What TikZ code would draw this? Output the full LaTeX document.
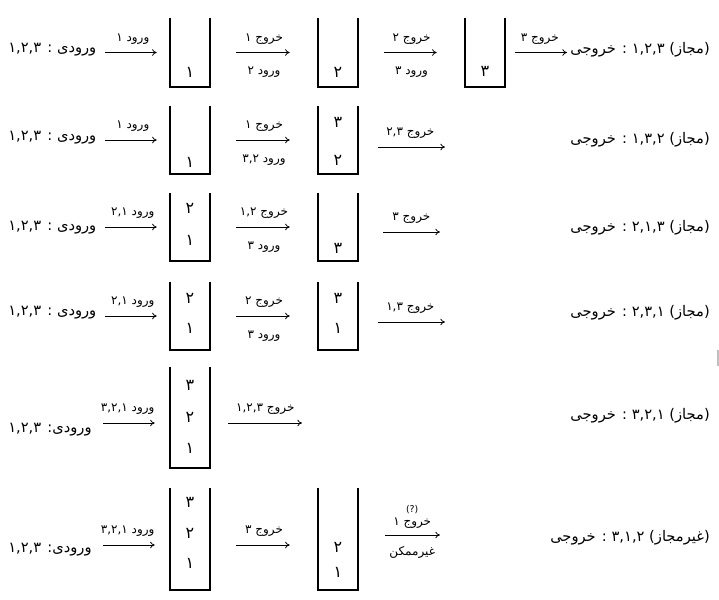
\documentclass[tikz,border=0pt]{standalone}
\usepackage{fontspec}
\newfontfamily\persian[Script=Arabic]{DejaVu Sans}
\TeXXeTstate=1
\usetikzlibrary{arrows.meta,positioning}

\newcommand{\rl}[1]{\beginR #1\endR}
\newcommand{\openstack}[1]{%
    \draw[stackwall] (#1.north west) -- (#1.south west) -- (#1.south east) -- (#1.north east);}

\tikzset{
    stackbox/.style={
        rectangle,
        inner sep=0pt,
        minimum width=30pt,
        minimum height=#1
    },
    stackwall/.style={
        line width=1.5pt,
        line join=miter
    },
    stacknum/.style={
        font=\persian\large,
        inner sep=0pt
    },
    seqtext/.style={
        font=\persian\fontsize{11}{13}\selectfont,
        inner sep=0pt
    },
    oplabel/.style={
        font=\persian\fontsize{9}{11}\selectfont,
        inner sep=1pt
    },
    toplabel/.style={
        oplabel,
        above=5pt
    },
    botlabel/.style={
        oplabel,
        below=9.5pt
    },
    arrow/.style={
        -{To[length=3.5pt,width=5pt]},
        line width=0.6pt
    },
    midarrow/.style={
        arrow,
        shorten <=19.5pt,
        shorten >=21pt
    }
}

\begin{document}
\begin{tikzpicture}[x=0.75pt, y=-0.75pt]
    \useasboundingbox (0,0) rectangle (719,600);

    % row 1: 1,2,3 -> 1,2,3
    \node[seqtext, anchor=west] (in1) at (8,50) {\rl{ورودی : ۱,۲,۳}};
    \node[stackbox=51pt] (b11) at (190,52.5) {};
    \node[stackbox=51pt] (b12) at (338,52.5) {};
    \node[stackbox=51pt] (b13) at (485,52.5) {};
    \openstack{b11} \openstack{b12} \openstack{b13}
    \node[stacknum] (n11) at (190,72) {۱};
    \node[stacknum] (n12) at (338,72) {۲};
    \node[stacknum] (n13) at (485,71) {۳};
    \coordinate (in1a) at (105,52.5);
    \coordinate (r1e) at (567,52.5);
    \draw[arrow, shorten >=9.75pt] (in1a) -- node[toplabel, pos=0.43] (l11) {\rl{ورود ۱}} (b11.west);
    \draw[midarrow] (b11.east) -- node[toplabel] (l12) {\rl{خروج ۱}} node[botlabel] (l12b) {\rl{ورود ۲}} (b12.west);
    \draw[midarrow] (b12.east) -- node[toplabel] (l13) {\rl{خروج ۲}} node[botlabel] (l13b) {\rl{ورود ۳}} (b13.west);
    \draw[arrow, shorten <=7.5pt] (b13.east) -- node[toplabel, pos=0.56] (l14) {\rl{خروج ۳}} (r1e);
    \node[seqtext, anchor=east] (out1) at (710,50) {\rl{(مجاز) ۱,۲,۳ : خروجی}};

    % row 2: 1,2,3 -> 1,3,2
    \node[seqtext, anchor=west] (in2) at (8,138) {\rl{ورودی : ۱,۲,۳}};
    \node[stackbox=51pt] (b21) at (190,140) {};
    \node[stackbox=51pt] (b22) at (338,140) {};
    \openstack{b21} \openstack{b22}
    \node[stacknum] (n21) at (190,162) {۱};
    \node[stacknum] (n22a) at (338,122) {۳};
    \node[stacknum] (n22b) at (338,160) {۲};
    \coordinate (in2a) at (105,140);
    \coordinate (r2e) at (445,147);
    \draw[arrow, shorten >=9.75pt] (in2a) -- node[toplabel, pos=0.43] (l21) {\rl{ورود ۱}} (b21.west);
    \draw[midarrow] (b21.east) -- node[toplabel] (l22) {\rl{خروج ۱}} node[botlabel] (l22b) {\rl{ورود ۳,۲}} (b22.west);
    \draw[arrow, shorten <=15pt] (b22.east |- r2e) -- node[toplabel, pos=0.6] (l23) {\rl{خروج ۲,۳}} (r2e);
    \node[seqtext, anchor=east] (out2) at (710,140) {\rl{(مجاز) ۱,۳,۲ : خروجی}};

    % row 3: 1,2,3 -> 2,1,3
    \node[seqtext, anchor=west] (in3) at (8,228) {\rl{ورودی : ۱,۲,۳}};
    \node[stackbox=51pt] (b31) at (190,227) {};
    \node[stackbox=51pt] (b32) at (338,227) {};
    \openstack{b31} \openstack{b32}
    \node[stacknum] (n31a) at (190,208) {۲};
    \node[stacknum] (n31b) at (190,240) {۱};
    \node[stacknum] (n32) at (338,248) {۳};
    \coordinate (in3a) at (105,227);
    \coordinate (r3e) at (440,232);
    \draw[arrow, shorten >=9.75pt] (in3a) -- node[toplabel, pos=0.43] (l31) {\rl{ورود ۲,۱}} (b31.west);
    \draw[midarrow] (b31.east) -- node[toplabel] (l32) {\rl{خروج ۱,۲}} node[botlabel] (l32b) {\rl{ورود ۳}} (b32.west);
    \draw[arrow, shorten <=18.75pt] (b32.east |- r3e) -- node[toplabel, pos=0.65] (l33) {\rl{خروج ۳}} (r3e);
    \node[seqtext, anchor=east] (out3) at (710,228) {\rl{(مجاز) ۲,۱,۳ : خروجی}};

    % row 4: 1,2,3 -> 2,3,1
    \node[seqtext, anchor=west] (in4) at (8,313) {\rl{ورودی : ۱,۲,۳}};
    \node[stackbox=51pt] (b41) at (190,316) {};
    \node[stackbox=51pt] (b42) at (338,316) {};
    \openstack{b41} \openstack{b42}
    \node[stacknum] (n41a) at (190,298) {۲};
    \node[stacknum] (n41b) at (190,328) {۱};
    \node[stacknum] (n42a) at (338,298) {۳};
    \node[stacknum] (n42b) at (338,328) {۱};
    \coordinate (in4a) at (105,316);
    \coordinate (r4e) at (445,322);
    \draw[arrow, shorten >=9.75pt] (in4a) -- node[toplabel, pos=0.43] (l41) {\rl{ورود ۲,۱}} (b41.west);
    \draw[midarrow] (b41.east) -- node[toplabel] (l42) {\rl{خروج ۲}} node[botlabel] (l42b) {\rl{ورود ۳}} (b42.west);
    \draw[arrow, shorten <=15pt] (b42.east |- r4e) -- node[toplabel, pos=0.6] (l43) {\rl{خروج ۱,۳}} (r4e);
    \node[seqtext, anchor=east] (out4) at (710,313) {\rl{(مجاز) ۲,۳,۱ : خروجی}};

    % row 5: 1,2,3 -> 3,2,1
    \node[seqtext, anchor=west] (in5) at (8,430) {\rl{ورودی: ۱,۲,۳}};
    \node[stackbox=75.75pt] (b51) at (190,417.5) {};
    \openstack{b51}
    \node[stacknum] (n51a) at (190,385) {۳};
    \node[stacknum] (n51b) at (190,417) {۲};
    \node[stacknum] (n51c) at (190,448) {۱};
    \coordinate (in5a) at (103,423);
    \coordinate (r5e) at (302,423);
    \draw[arrow, shorten >=11.25pt] (in5a) -- node[toplabel, pos=0.37] (l51) {\rl{ورود ۳,۲,۱}} (b51.west |- in5a);
    \draw[arrow, shorten <=13.5pt] (b51.east |- r5e) -- node[toplabel, pos=0.6] (l52) {\rl{خروج ۱,۲,۳}} (r5e);
    \node[seqtext, anchor=east] (out5) at (710,416) {\rl{(مجاز) ۳,۲,۱ : خروجی}};

    % row 6: 1,2,3 -> 3,1,2 (not possible)
    \node[seqtext, anchor=west] (in6) at (8,550) {\rl{ورودی: ۱,۲,۳}};
    \node[stackbox=76.5pt] (b61) at (190,539) {};
    \node[stackbox=76.5pt] (b62) at (338,539) {};
    \openstack{b61} \openstack{b62}
    \node[stacknum] (n61a) at (190,502) {۳};
    \node[stacknum] (n61b) at (190,533) {۲};
    \node[stacknum] (n61c) at (190,563) {۱};
    \node[stacknum] (n62a) at (338,547) {۲};
    \node[stacknum] (n62b) at (338,572) {۱};
    \coordinate (in6a) at (103,545);
    \coordinate (r6e) at (440,535);
    \draw[arrow, shorten >=11.25pt] (in6a) -- node[toplabel, pos=0.37] (l61) {\rl{ورود ۳,۲,۱}} (b61.west |- in6a);
    \draw[midarrow] (b61.east |- in6a) -- node[toplabel] (l62) {\rl{خروج ۳}} (b62.west |- in6a);
    \draw[arrow, shorten <=20.25pt] (b62.east |- r6e) -- node[toplabel, pos=0.66, above=4pt] (l63) {\rl{خروج ۱}} node[botlabel, pos=0.66, below=7.5pt] (l63b) {غیرممکن} (r6e);
    \node[oplabel, font=\persian\scriptsize, above=0.5pt of l63] (q63) {(?)};
    \node[seqtext, anchor=east] (out6) at (710,538) {\rl{(غیرمجاز) ۳,۱,۲ : خروجی}};

    % stray mark at the right edge
    \draw[gray!50, line width=1pt] (718,350) -- (718,366);
\end{tikzpicture}
\end{document}
